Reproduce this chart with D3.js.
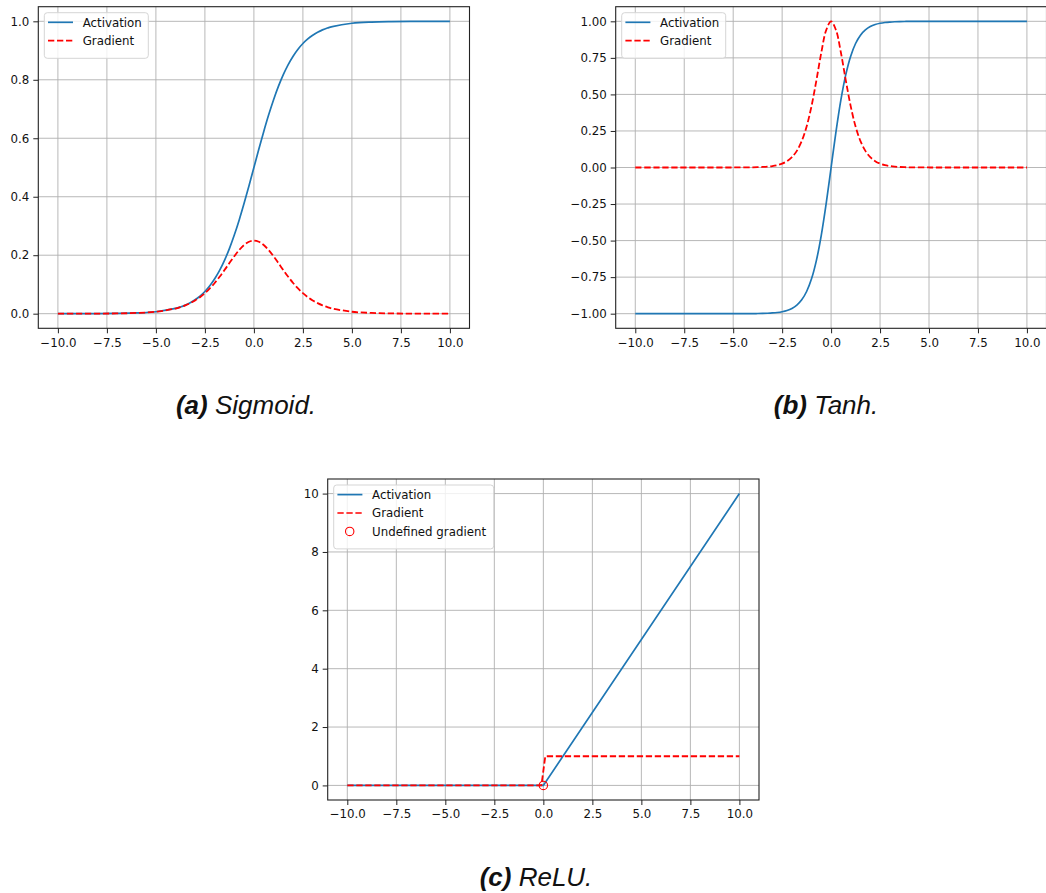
<!DOCTYPE html>
<html>
<head>
<meta charset="utf-8">
<script src="https://cdn.jsdelivr.net/npm/d3@7"></script>
<style>
  html, body { margin: 0; padding: 0; background: #fff; }
  svg { display: block; }
  .tick-label { font-family: "DejaVu Sans", sans-serif; font-size: 11.8px; fill: #111; }
  .legend-label { font-family: "DejaVu Sans", sans-serif; font-size: 11.8px; fill: #111; }
  .caption { font-family: "Liberation Sans", Arial, sans-serif; font-size: 26px; font-style: italic; fill: #111; }
</style>
</head>
<body>
<svg id="fig" width="1046" height="893"></svg>
<script>
// Sample positions shared by the sigmoid and tanh curves
const xs = [-10, -9, -8, -7, -6, -5, -4, -3.75, -3.5, -3.25, -3, -2.75, -2.5, -2.25, -2,
  -1.75, -1.5, -1.25, -1, -0.75, -0.5, -0.25, 0, 0.25, 0.5, 0.75, 1, 1.25, 1.5, 1.75,
  2, 2.25, 2.5, 2.75, 3, 3.25, 3.5, 3.75, 4, 5, 6, 7, 8, 9, 10];

// Sigmoid activation and its derivative
const sigmoidAct = [0.0000454, 0.000123, 0.000335, 0.000911, 0.00247, 0.00669, 0.01799, 0.02298,
  0.02931, 0.03732, 0.04743, 0.06008, 0.07586, 0.09535, 0.11920, 0.14805, 0.18243, 0.22270,
  0.26894, 0.32082, 0.37754, 0.43782, 0.5, 0.56218, 0.62246, 0.67918, 0.73106, 0.77730,
  0.81757, 0.85195, 0.88080, 0.90465, 0.92414, 0.93992, 0.95257, 0.96268, 0.97069, 0.97702,
  0.98201, 0.99331, 0.99753, 0.999089, 0.999665, 0.999877, 0.9999546];
const sigmoidGrad = [0.0000454, 0.000123, 0.000335, 0.000910, 0.00247, 0.00665, 0.01766, 0.02245,
  0.02845, 0.03593, 0.04518, 0.05647, 0.07010, 0.08626, 0.10499, 0.12613, 0.14915, 0.17310,
  0.19661, 0.21789, 0.23500, 0.24613, 0.25, 0.24613, 0.23500, 0.21789, 0.19661, 0.17310,
  0.14915, 0.12613, 0.10499, 0.08626, 0.07010, 0.05647, 0.04518, 0.03593, 0.02845, 0.02245,
  0.01766, 0.00665, 0.00247, 0.000910, 0.000335, 0.000123, 0.0000454];

// Tanh activation and its derivative
const tanhAct = [-1.0, -1.0, -0.9999998, -0.9999983, -0.9999877, -0.99991, -0.99933, -0.99889,
  -0.99818, -0.99700, -0.99505, -0.99186, -0.98661, -0.97803, -0.96403, -0.94138, -0.90515,
  -0.84828, -0.76159, -0.63515, -0.46212, -0.24492, 0, 0.24492, 0.46212, 0.63515, 0.76159,
  0.84828, 0.90515, 0.94138, 0.96403, 0.97803, 0.98661, 0.99186, 0.99505, 0.99700, 0.99818,
  0.99889, 0.99933, 0.99991, 0.9999877, 0.9999983, 0.9999998, 1.0, 1.0];
const tanhGrad = [0, 0, 0.0000005, 0.0000033, 0.0000246, 0.00018, 0.00134, 0.00221, 0.00364,
  0.00600, 0.00987, 0.01621, 0.02660, 0.04346, 0.07065, 0.11380, 0.18071, 0.28042, 0.41998,
  0.59659, 0.78645, 0.94001, 1, 0.94001, 0.78645, 0.59659, 0.41998, 0.28042, 0.18071, 0.11380,
  0.07065, 0.04346, 0.02660, 0.01621, 0.00987, 0.00600, 0.00364, 0.00221, 0.00134, 0.00018,
  0.0000246, 0.0000033, 0.0000005, 0, 0];

// ReLU activation, its derivative and the point where the derivative is undefined
const reluX = [-10, 0, 10];
const reluAct = [0, 0, 10];
const reluGradX = [-10, -0.1, 0.1, 10];
const reluGrad = [0, 0, 1, 1];
const reluUndefined = [[0, 0]];

// Tick values
const xTicks = [-10, -7.5, -5, -2.5, 0, 2.5, 5, 7.5, 10];
const sigmoidYTicks = [0, 0.2, 0.4, 0.6, 0.8, 1.0];
const tanhYTicks = [-1, -0.75, -0.5, -0.25, 0, 0.25, 0.5, 0.75, 1];
const reluYTicks = [0, 2, 4, 6, 8, 10];

const captions = [
  { tag: "(a)", name: " Sigmoid." },
  { tag: "(b)", name: " Tanh." },
  { tag: "(c)", name: " ReLU." }
];

const BLUE = "#1f77b4";
const RED = "#ff0000";
const DASH = "6.3,2.7";
const svg = d3.select("#fig");
const minusFmt = f => v => d3.format(f)(v).replace("-", "\u2212");

function panel(opt) {
  const { left, top, right, bottom } = opt.box;
  const x = d3.scaleLinear().domain([-11, 11]).range([left, right]);
  const y = d3.scaleLinear().domain(opt.yDomain).range([bottom, top]);
  const g = svg.append("g");

  // grid
  const grid = g.append("g").attr("stroke", "#b0b0b0").attr("stroke-width", 0.9);
  grid.selectAll(".gx").data(xTicks).join("line")
    .attr("x1", d => x(d)).attr("x2", d => x(d)).attr("y1", top).attr("y2", bottom);
  grid.selectAll(".gy").data(opt.yTicks).join("line")
    .attr("y1", d => y(d)).attr("y2", d => y(d)).attr("x1", left).attr("x2", right);

  // axes
  const xAxis = d3.axisBottom(x).tickValues(xTicks).tickSize(5).tickPadding(4)
    .tickFormat(minusFmt(".1f"));
  const yAxis = d3.axisLeft(y).tickValues(opt.yTicks).tickSize(5).tickPadding(4)
    .tickFormat(minusFmt(opt.yFormat));
  const ax = g.append("g").attr("transform", `translate(0,${bottom})`).call(xAxis);
  const ay = g.append("g").attr("transform", `translate(${left},0)`).call(yAxis);
  [ax, ay].forEach(a => {
    a.select(".domain").remove();
    a.selectAll(".tick line").attr("stroke", "#222").attr("stroke-width", 1);
    a.selectAll(".tick text").attr("class", "tick-label").attr("fill", null);
  });
  ax.selectAll(".tick text").attr("dy", "0.78em");

  // curves
  const clipId = "clip" + opt.id;
  g.append("clipPath").attr("id", clipId).append("rect")
    .attr("x", left).attr("y", top).attr("width", right - left).attr("height", bottom - top);
  const plot = g.append("g").attr("clip-path", `url(#${clipId})`);
  opt.series.forEach(s => {
    const line = d3.line().x((d, i) => x(s.x[i])).y(d => y(d))
      .curve(s.smooth ? d3.curveCatmullRom.alpha(0.5) : d3.curveLinear);
    plot.append("path").datum(s.y).attr("d", line)
      .attr("fill", "none").attr("stroke", s.color).attr("stroke-width", s.dashed ? 1.8 : 1.7)
      .attr("stroke-dasharray", s.dashed ? DASH : null);
  });
  if (opt.points) {
    plot.selectAll(".pt").data(opt.points).join("circle")
      .attr("cx", d => x(d[0])).attr("cy", d => y(d[1])).attr("r", 4.2)
      .attr("fill", "none").attr("stroke", RED).attr("stroke-width", 1.1);
  }

  // frame
  g.append("rect").attr("x", left).attr("y", top).attr("width", right - left)
    .attr("height", bottom - top).attr("fill", "none").attr("stroke", "#222").attr("stroke-width", 1.1);

  // legend
  const lg = g.append("g").attr("transform", `translate(${left + 6},${top + 6})`);
  const rows = opt.legend;
  lg.append("rect").attr("width", opt.legendWidth).attr("height", 6 + rows.length * 18.3 + 3)
    .attr("rx", 3).attr("fill", "#fff").attr("fill-opacity", 0.8)
    .attr("stroke", "#d5d5d5").attr("stroke-width", 1);
  rows.forEach((r, i) => {
    const cy = 9.6 + i * 18.4;
    if (r.type === "marker") {
      lg.append("circle").attr("cx", 16).attr("cy", cy).attr("r", 4.2)
        .attr("fill", "none").attr("stroke", RED).attr("stroke-width", 1.1);
    } else {
      lg.append("line").attr("x1", 3.7).attr("x2", 28.7).attr("y1", cy).attr("y2", cy)
        .attr("stroke", r.color).attr("stroke-width", 1.7)
        .attr("stroke-dasharray", r.type === "dashed" ? DASH : null);
    }
    lg.append("text").attr("class", "legend-label").attr("x", 38.4).attr("y", cy)
      .attr("dy", "0.36em").text(r.label);
  });

  // caption
  const cap = svg.append("text").attr("class", "caption").attr("text-anchor", "middle")
    .attr("x", opt.caption.x).attr("y", opt.caption.y);
  cap.append("tspan").attr("font-weight", "bold").text(opt.caption.c.tag);
  cap.append("tspan").text(opt.caption.c.name);
}

const lineLegend = [
  { label: "Activation", color: BLUE, type: "solid" },
  { label: "Gradient", color: RED, type: "dashed" }
];

panel({
  id: "a", box: { left: 38.3, top: 6.7, right: 469.5, bottom: 328.3 },
  yDomain: [-0.05, 1.05], yTicks: sigmoidYTicks, yFormat: ".1f",
  series: [
    { x: xs, y: sigmoidAct, color: BLUE, smooth: true },
    { x: xs, y: sigmoidGrad, color: RED, dashed: true, smooth: true }
  ],
  legend: lineLegend, legendWidth: 104,
  caption: { x: 246, y: 414, c: captions[0] }
});

panel({
  id: "b", box: { left: 615.7, top: 6.7, right: 1046.5, bottom: 328.3 },
  yDomain: [-1.1, 1.1], yTicks: tanhYTicks, yFormat: ".2f",
  series: [
    { x: xs, y: tanhAct, color: BLUE, smooth: true },
    { x: xs, y: tanhGrad, color: RED, dashed: true, smooth: true }
  ],
  legend: lineLegend, legendWidth: 104,
  caption: { x: 826, y: 414, c: captions[1] }
});

panel({
  id: "c", box: { left: 327.7, top: 479, right: 759, bottom: 800 },
  yDomain: [-0.5, 10.5], yTicks: reluYTicks, yFormat: "d",
  series: [
    { x: reluX, y: reluAct, color: BLUE },
    { x: reluGradX, y: reluGrad, color: RED, dashed: true }
  ],
  points: reluUndefined,
  legend: lineLegend.concat([{ label: "Undefined gradient", type: "marker" }]), legendWidth: 160,
  caption: { x: 536, y: 886, c: captions[2] }
});
</script>
</body>
</html>
